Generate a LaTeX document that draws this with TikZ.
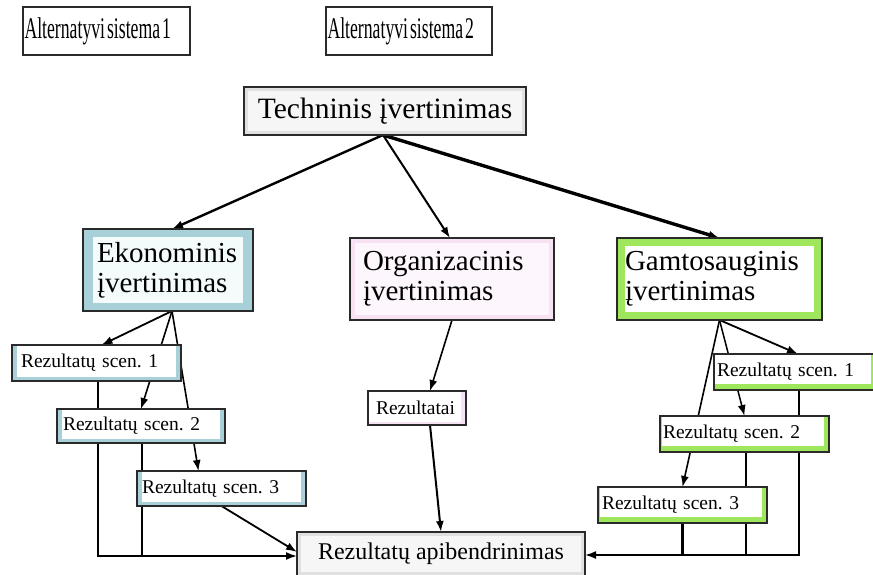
\documentclass[tikz,border=0pt]{standalone}
\usepackage{fontspec}
\usepackage{graphicx}
\setmainfont{Liberation Serif}
\frenchspacing
\usetikzlibrary{arrows.meta,backgrounds}

\definecolor{blueband}{HTML}{A8D0D8}
\definecolor{bluein}{HTML}{F4FBFB}
\definecolor{pinkband}{HTML}{F6E2F2}
\definecolor{pinkin}{HTML}{FDF6FC}
\definecolor{greenband}{HTML}{9EE75C}
\definecolor{greenin}{HTML}{FFFFFF}
\definecolor{grayband}{HTML}{E0E0E0}
\definecolor{grayin}{HTML}{F6F6F6}
\definecolor{edge}{HTML}{2A2A2A}

% narrow header lettering
\newcommand{\narrowtitle}[1]{\scalebox{0.59}[1]{\fontsize{30}{30}\selectfont #1}}

\tikzset{
  box/.style={draw=edge, line width=1.3pt, anchor=north west, inner ysep=0pt, outer sep=0pt},
  % coloured frame (#1) around a lighter inner panel (#2); insets: left, right, top, bottom
  band/.style n args={6}{fill=#1, path picture={\fill[#2]
      ([xshift=#3,yshift=#6]path picture bounding box.south west) rectangle
      ([xshift=-#4,yshift=-#5]path picture bounding box.north east);}},
  bigfont/.style={font=\fontsize{29}{30}\selectfont},
  smallfont/.style={font=\fontsize{19.5}{22}\selectfont},
  conn/.style={draw=black, line width=1.8pt, line join=miter},
  arrowed/.style={-{Latex[length=11pt,width=8pt]}},
}

\begin{document}
\begin{tikzpicture}[x=1pt,y=-1pt]
\useasboundingbox (0,0) rectangle (873,575);

% headers
\node (alt1) [box, fill=white, inner xsep=1.5pt, text width=164pt, minimum height=48pt, align=left]
  at (23,7) {\narrowtitle{Alternatyvi sistema 1}};
\node (alt2) [box, fill=white, inner xsep=1.5pt, text width=163pt, minimum height=48pt, align=left]
  at (326,7) {\narrowtitle{Alternatyvi sistema 2}};

% evaluation boxes
\node (tech) [box, band={grayband}{grayin}{4pt}{4pt}{4pt}{4pt}, font=\fontsize{29.5}{30}\selectfont,
  minimum width=282pt, minimum height=48pt] at (244,87) {Techninis įvertinimas};
\node (eko) [box, band={blueband}{bluein}{10pt}{10pt}{8pt}{8pt}, bigfont,
  inner xsep=14pt, text width=142pt, minimum height=82pt, align=left] at (83,229) {Ekonominis\\įvertinimas};
\node (org) [box, band={pinkband}{pinkin}{5pt}{5pt}{5pt}{5pt}, bigfont,
  inner xsep=13pt, text width=178pt, minimum height=82pt, align=left] at (350,238) {Organizacinis\\įvertinimas};
\node (gam) [box, band={greenband}{greenin}{8pt}{8pt}{8pt}{8pt}, bigfont,
  inner xsep=8pt, text width=189pt, minimum height=82pt, align=left] at (617,238) {Gamtosauginis\\įvertinimas};

% economic scenarios
\node (es1) [box, band={blueband}{white}{5pt}{5pt}{1pt}{4pt}, smallfont,
  inner xsep=9pt, text width=151pt, minimum height=36pt, align=left] at (12,345) {Rezultatų scen. 1};
\node (es2) [box, band={blueband}{white}{5pt}{5pt}{1pt}{4pt}, smallfont,
  inner xsep=6pt, text width=156pt, minimum height=34pt, align=left] at (57,409) {Rezultatų scen. 2};
\node (es3) [box, band={blueband}{white}{5pt}{5pt}{1pt}{4pt}, smallfont,
  inner xsep=5pt, text width=159pt, minimum height=35pt, align=left] at (137,471) {Rezultatų scen. 3};

% organisational result
\node (rez) [box, band={pinkband}{white}{1pt}{5pt}{1pt}{3pt}, smallfont,
  inner xsep=8pt, text width=82pt, minimum height=34pt, align=left] at (368,391) {Rezultatai};

% environmental scenarios
\node (gs1) [box, band={greenband}{white}{1pt}{5pt}{1pt}{6pt}, smallfont,
  inner xsep=3pt, text width=156pt, minimum height=36pt, align=left] at (714,354) {Rezultatų scen. 1};
\node (gs2) [box, band={greenband}{white}{2pt}{5pt}{1pt}{6pt}, smallfont,
  inner xsep=3pt, text width=163pt, minimum height=36pt, align=left] at (660,416) {Rezultatų scen. 2};
\node (gs3) [box, band={greenband}{white}{2pt}{5pt}{1pt}{6pt}, smallfont,
  inner xsep=4pt, text width=161pt, minimum height=36pt, align=left] at (598,487) {Rezultatų scen. 3};

% summary
\node (apib) [box, band={grayband}{grayin}{4pt}{4pt}{4pt}{4pt}, font=\fontsize{24}{26}\selectfont,
  minimum width=288pt, minimum height=44pt] at (297,532) {Rezultatų apibendrinimas};

\begin{scope}[on background layer]
  \fill[white] (0,0) rectangle (873,575);
  % from the technical evaluation
  \draw[conn, arrowed, line width=2.4pt] ([xshift=-2pt]tech.south) -- ([xshift=4pt]eko.north);
  \draw[conn, arrowed, line width=2pt] ([xshift=-2pt]tech.south) -- ([xshift=-2pt]org.north);
  \draw[conn, arrowed, line width=3.4pt] ([xshift=-2pt]tech.south) -- (gam.north);
  % economic branch
  \draw[conn, arrowed] ([xshift=4pt]eko.south) -- ([xshift=5pt]es1.north);
  \draw[conn, arrowed, line width=1.6pt] ([xshift=4pt]eko.south) -- (es2.north);
  \draw[conn, arrowed, line width=1.6pt] ([xshift=4pt]eko.south) -- ([xshift=-23pt]es3.north);
  \draw[conn, arrowed] ([xshift=1.5pt]es1.south) |- ([yshift=-2pt]apib.west);
  \draw[conn] ([xshift=1pt]es2.south) -- ([xshift=1pt,yshift=-2pt]es2.south |- apib.west);
  \draw[conn, arrowed] (es3.south) -- ([yshift=2pt]apib.west);
  % organisational branch
  \draw[conn, arrowed, line width=1.6pt] (org.south) -- ([xshift=13pt]rez.north);
  \draw[conn, arrowed, line width=2pt] ([xshift=13pt]rez.south) -- (apib.north);
  % environmental branch
  \draw[conn, arrowed] (gam.south) -- ([xshift=3pt]gs1.north);
  \draw[conn, arrowed, line width=1.5pt] (gam.south) -- (gs2.north);
  \draw[conn, arrowed, line width=1.6pt] (gam.south) -- (gs3.north);
  \draw[conn, arrowed] ([xshift=4pt]gs1.south) |- ([yshift=-1pt]apib.east);
  \draw[conn] ([xshift=1.5pt]gs2.south) -- ([xshift=1.5pt,yshift=-1pt]gs2.south |- apib.east);
  \draw[conn, line width=3pt] (gs3.south) -- ([yshift=-1pt]gs3.south |- apib.east);
\end{scope}
\end{tikzpicture}
\end{document}
